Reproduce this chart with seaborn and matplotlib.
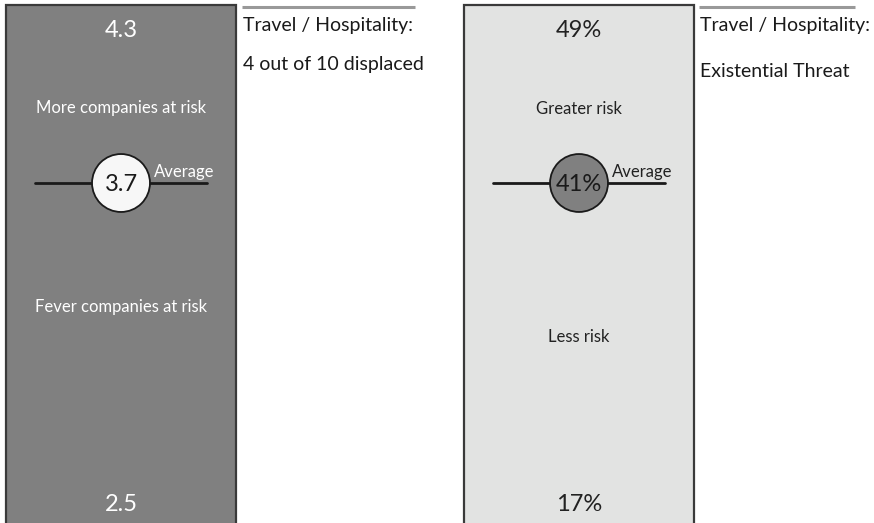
import matplotlib
matplotlib.use("Agg")
import matplotlib.pyplot as plt
from matplotlib.patches import Rectangle
import pandas as pd
import seaborn as sns

# Chart content
top_values = ["4.3", "49%"]
bottom_values = ["2.5", "17%"]
average_values = ["3.7", "41%"]
upper_labels = ["More companies at risk", "Greater risk"]
lower_labels = ["Fever companies at risk", "Less risk"]
average_label = "Average"
side_titles = ["Travel / Hospitality:", "Travel / Hospitality:"]
side_notes = ["4 out of 10 displaced", "Existential Threat"]

# Styling
panel_fill = ["#808080", "#e2e3e2"]
panel_text = ["#ffffff", "#222222"]
circle_fill = ["#f7f7f7", "#808080"]
panel_left = [6, 464]
panel_width = 230
note_left = [243, 700]
rule_span = [(242, 415), (699, 855)]
upper_y = [113, 114]
lower_y = [312, 342]
note_y = [70, 77]

sns.set_theme(style="white")
plt.rcParams["font.family"] = ["Lato", "DejaVu Sans"]

W, H = 874, 523
fig = plt.figure(figsize=(W / 100, H / 100), dpi=100)
ax = fig.add_axes([0, 0, 1, 1])
ax.set_xlim(0, W)
ax.set_ylim(H, 0)
ax.set_axis_off()

circle_y = 183
circles = pd.DataFrame({
    "x": [p + panel_width / 2 for p in panel_left],
    "y": [circle_y, circle_y],
    "panel": ["left", "right"],
})

BIG, SMALL, NOTE = 17, 12, 14

for i in range(2):
    x0 = panel_left[i]
    cx = x0 + panel_width / 2
    ax.add_patch(Rectangle((x0, 5), panel_width, H + 10, facecolor=panel_fill[i],
                           edgecolor="#3a3a3a", linewidth=1.6, zorder=1))
    ax.text(cx, 37, top_values[i], color=panel_text[i], fontsize=BIG,
            ha="center", va="baseline", zorder=4)
    ax.text(cx, 511, bottom_values[i], color=panel_text[i], fontsize=BIG,
            ha="center", va="baseline", zorder=4)
    ax.text(cx, upper_y[i], upper_labels[i], color=panel_text[i], fontsize=SMALL,
            ha="center", va="baseline", zorder=4)
    ax.text(cx, lower_y[i], lower_labels[i], color=panel_text[i], fontsize=SMALL,
            ha="center", va="baseline", zorder=4)
    # average marker line
    ax.plot([cx - 86, cx + 86], [circle_y, circle_y], color="#1a1a1a", lw=2, zorder=2)
    ax.text(cx + 33, 177, average_label, color=panel_text[i], fontsize=SMALL,
            ha="left", va="baseline", zorder=4)
    # side heading
    ax.plot(rule_span[i], [7, 7], color="#999999", lw=2.2, solid_capstyle="butt")
    ax.text(note_left[i], 31, side_titles[i], color="#1a1a1a", fontsize=NOTE,
            ha="left", va="baseline")
    ax.text(note_left[i], note_y[i], side_notes[i], color="#1a1a1a", fontsize=NOTE,
            ha="left", va="baseline")

sns.scatterplot(data=circles, x="x", y="y", hue="panel",
                palette=dict(zip(["left", "right"], circle_fill)),
                s=1740, edgecolor="#1a1a1a", linewidth=1.3, legend=False,
                zorder=3, ax=ax)

for i in range(2):
    cx = panel_left[i] + panel_width / 2
    ax.text(cx, 191, average_values[i], color="#1a1a1a", fontsize=BIG,
            ha="center", va="baseline", zorder=5)

ax.set_xlim(0, W)
ax.set_ylim(H, 0)
fig.savefig("out.png", dpi=100)
